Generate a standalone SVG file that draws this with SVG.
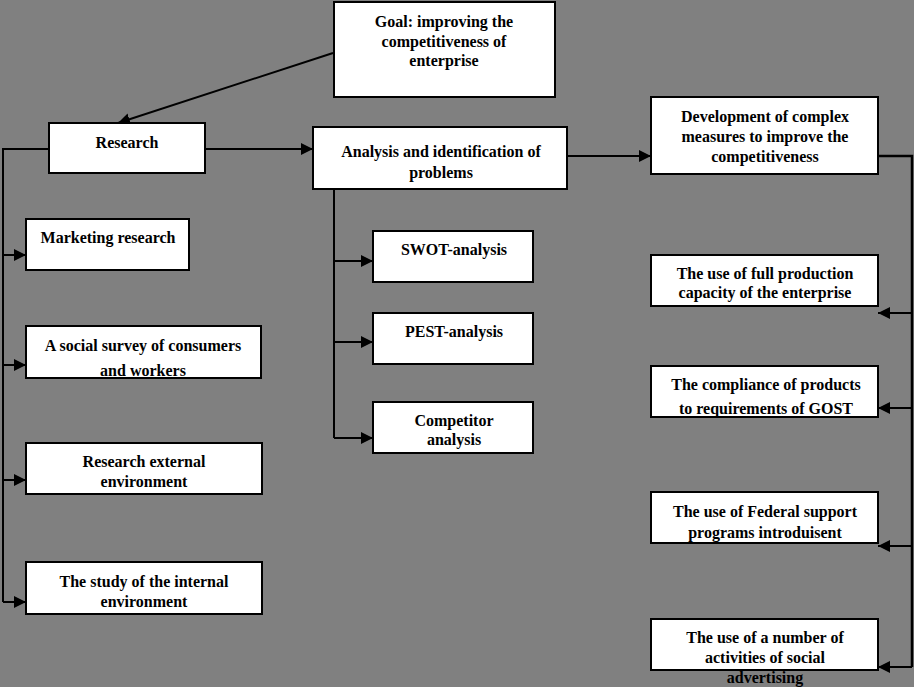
<svg xmlns="http://www.w3.org/2000/svg" width="914" height="687" viewBox="0 0 914 687">
<defs>
<marker id="ah" markerUnits="userSpaceOnUse" markerWidth="13" markerHeight="13" refX="12" refY="6" orient="auto">
<path d="M0,0 L12,6 L0,12 z" fill="#000"/>
</marker>
<style>
.box{fill:#fff;stroke:#000;stroke-width:2}
.t{font-family:"Liberation Serif","Times New Roman",serif;font-weight:bold;font-size:16px;fill:#000;text-anchor:middle}
.c{fill:none;stroke:#000;stroke-width:2}
.a{fill:none;stroke:#000;stroke-width:2;marker-end:url(#ah)}
</style>
</defs>
<rect width="914" height="687" fill="#808080"/>
<g id="connectors">
<path class="a" d="M333,53 L118,123"/>
<path class="a" d="M205,149 L313,149"/>
<path class="c" d="M49,149 L3,149 L3,602"/>
<path class="a" d="M3,255 L26,255"/>
<path class="a" d="M3,365 L26,365"/>
<path class="a" d="M3,480 L26,480"/>
<path class="a" d="M3,602 L26,602"/>
<path class="c" d="M334,178 L334,438"/>
<path class="a" d="M334,261 L373,261"/>
<path class="a" d="M334,342 L373,342"/>
<path class="a" d="M334,438 L373,438"/>
<path class="a" d="M567,156 L651,156"/>
<path class="c" d="M878,156 L912,156 L912,667" style="stroke-width:2.5"/>
<path class="a" d="M912,313 L878,313"/>
<path class="a" d="M912,408 L878,408"/>
<path class="a" d="M912,546 L878,546"/>
<path class="a" d="M912,667 L878,667"/>
</g>
<g id="goal"><rect class="box" x="334" y="2" width="221" height="95"/>
<text class="t" x="444" y="27">Goal: improving the</text>
<text class="t" x="444" y="47">competitiveness of</text>
<text class="t" x="444" y="66">enterprise</text></g>
<g id="research"><rect class="box" x="49" y="123" width="156" height="50"/>
<text class="t" x="127" y="148">Research</text></g>
<g id="marketing"><rect class="box" x="26" y="219" width="163" height="51"/>
<text class="t" x="108" y="243">Marketing research</text></g>
<g id="social-survey"><rect class="box" x="26" y="326" width="235" height="52"/>
<text class="t" x="143" y="351">A social survey of consumers</text>
<text class="t" x="143" y="376">and workers</text></g>
<g id="external"><rect class="box" x="26" y="443" width="236" height="51"/>
<text class="t" x="144" y="467">Research external</text>
<text class="t" x="144" y="487">environment</text></g>
<g id="internal"><rect class="box" x="26" y="562" width="236" height="52"/>
<text class="t" x="144" y="587">The study of the internal</text>
<text class="t" x="144" y="607">environment</text></g>
<g id="analysis"><rect class="box" x="313" y="127" width="254" height="62"/>
<text class="t" x="441" y="157">Analysis and identification of</text>
<text class="t" x="441" y="178">problems</text></g>
<g id="swot"><rect class="box" x="373" y="231" width="160" height="51"/>
<text class="t" x="454" y="255">SWOT-analysis</text></g>
<g id="pest"><rect class="box" x="373" y="313" width="160" height="51"/>
<text class="t" x="454" y="337">PEST-analysis</text></g>
<g id="competitor"><rect class="box" x="373" y="402" width="160" height="51"/>
<text class="t" x="454" y="426">Competitor</text>
<text class="t" x="454" y="445">analysis</text></g>
<g id="development"><rect class="box" x="651" y="97" width="227" height="77"/>
<text class="t" x="765" y="122">Development of complex</text>
<text class="t" x="765" y="142">measures to improve the</text>
<text class="t" x="765" y="162">competitiveness</text></g>
<g id="full-capacity"><rect class="box" x="651" y="255" width="227" height="51"/>
<text class="t" x="765" y="279">The use of full production</text>
<text class="t" x="765" y="298">capacity of the enterprise</text></g>
<g id="gost"><rect class="box" x="651" y="366" width="227" height="51"/>
<text class="t" x="766" y="390">The compliance of products</text>
<text class="t" x="766" y="414">to requirements of GOST</text></g>
<g id="federal"><rect class="box" x="651" y="492" width="227" height="51"/>
<text class="t" x="765" y="517">The use of Federal support</text>
<text class="t" x="765" y="538">programs introduisent</text></g>
<g id="advertising"><rect class="box" x="651" y="619" width="227" height="51"/>
<text class="t" x="765" y="643">The use of a number of</text>
<text class="t" x="765" y="663">activities of social</text>
<text class="t" x="765" y="683">advertising</text></g>
</svg>
